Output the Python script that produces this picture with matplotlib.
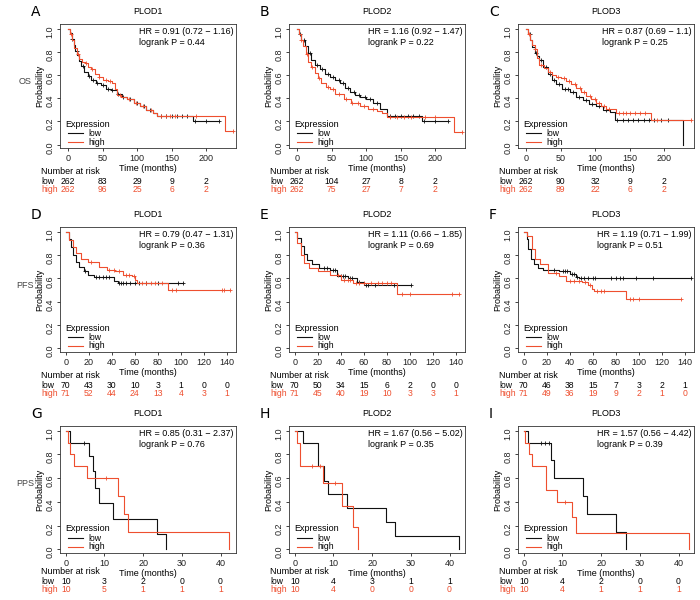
import numpy as np
import matplotlib
matplotlib.use("Agg")
import matplotlib.pyplot as plt
from matplotlib import transforms

plt.rcParams['font.family'] = ['Liberation Sans', 'DejaVu Sans']

RED = '#ee4f2f'
BLACK = '#111111'

genes = ['PLOD1', 'PLOD2', 'PLOD3']
endpoints = ['OS', 'PFS', 'PPS']
letters = ['A', 'B', 'C', 'D', 'E', 'F', 'G', 'H', 'I']

# ---- OS curves (time in months, survival after step) ----
os1_low_t = [0, 2, 5, 8, 10, 13, 16, 19, 23, 28, 33, 40, 47, 55, 62, 70, 78, 85, 95, 104, 113, 123, 128, 180]
os1_low_s = [1.0, 0.96, 0.91, 0.86, 0.81, 0.77, 0.72, 0.68, 0.63, 0.59, 0.56, 0.53, 0.51, 0.48, 0.47, 0.44, 0.41, 0.39, 0.36, 0.33, 0.30, 0.27, 0.245, 0.20]
os1_low_end = 218
os1_low_c = [5, 12, 22, 30, 36, 42, 50, 57, 63, 72, 80, 90, 100, 110, 118, 135, 142, 150, 158, 165, 172, 183, 200, 218]
os1_high_t = [0, 3, 6, 9, 12, 16, 20, 24, 29, 33, 38, 44, 50, 58, 64, 67, 70, 77, 85, 95, 104, 113, 123, 128, 227]
os1_high_s = [1.0, 0.95, 0.90, 0.83, 0.78, 0.74, 0.71, 0.70, 0.67, 0.65, 0.61, 0.58, 0.56, 0.55, 0.53, 0.48, 0.43, 0.41, 0.39, 0.36, 0.33, 0.30, 0.27, 0.245, 0.12]
os1_high_end = 238
os1_high_c = [4, 14, 26, 34, 45, 55, 60, 75, 88, 98, 108, 120, 135, 142, 148, 155, 185, 238]

os2_low_t = [0, 3, 6, 11, 15, 20, 26, 33, 40, 47, 55, 62, 69, 76, 84, 91, 100, 110, 120, 130, 180]
os2_low_s = [1.0, 0.95, 0.90, 0.85, 0.79, 0.73, 0.69, 0.65, 0.61, 0.58, 0.56, 0.53, 0.49, 0.45, 0.43, 0.41, 0.39, 0.36, 0.31, 0.245, 0.20]
os2_low_end = 218
os2_low_c = [4, 10, 18, 28, 36, 45, 52, 60, 66, 74, 82, 90, 98, 106, 115, 135, 142, 150, 160, 168, 176, 183, 200, 218]
os2_high_t = [0, 3, 5, 8, 12, 16, 20, 25, 30, 35, 41, 47, 55, 67, 78, 91, 103, 115, 123, 130, 227]
os2_high_s = [1.0, 0.95, 0.90, 0.85, 0.78, 0.71, 0.67, 0.62, 0.57, 0.53, 0.50, 0.48, 0.44, 0.39, 0.36, 0.33, 0.31, 0.29, 0.27, 0.235, 0.11]
os2_high_end = 238
os2_high_c = [6, 14, 22, 32, 44, 52, 60, 70, 80, 88, 96, 110, 135, 145, 155, 165, 185, 200, 238]

os3_low_t = [0, 3, 6, 9, 12, 15, 19, 24, 31, 37, 43, 52, 63, 72, 82, 91, 101, 111, 121, 128, 227]
os3_low_s = [1.0, 0.95, 0.90, 0.84, 0.79, 0.76, 0.73, 0.67, 0.61, 0.56, 0.52, 0.48, 0.45, 0.41, 0.38, 0.35, 0.33, 0.30, 0.28, 0.215, 0.0]
os3_low_end = 227
os3_low_c = [5, 14, 22, 28, 35, 40, 48, 56, 60, 68, 76, 86, 95, 105, 115, 132, 140, 148, 155, 162, 170, 178, 185, 195, 205]
os3_high_t = [0, 3, 6, 9, 12, 16, 19, 25, 31, 37, 43, 50, 58, 65, 72, 80, 87, 94, 101, 108, 116, 130, 180]
os3_high_s = [1.0, 0.95, 0.90, 0.86, 0.82, 0.75, 0.69, 0.66, 0.63, 0.60, 0.58, 0.57, 0.55, 0.52, 0.49, 0.45, 0.42, 0.39, 0.36, 0.33, 0.31, 0.27, 0.215]
os3_high_end = 238
os3_high_c = [4, 12, 22, 34, 46, 54, 62, 70, 78, 84, 92, 100, 106, 112, 120, 135, 140, 145, 150, 158, 165, 172, 190, 238]

# ---- PFS curves ----
pfs1_low_t = [0, 3, 4.3, 6, 9, 11.5, 16, 19, 24.5, 42, 45]
pfs1_low_s = [1.0, 0.94, 0.87, 0.80, 0.74, 0.70, 0.66, 0.63, 0.61, 0.58, 0.56]
pfs1_low_end = 102
pfs1_low_c = [17, 26, 29, 32, 35, 38, 46, 48, 50, 52, 56, 60, 64, 70, 80, 98, 102]
pfs1_high_t = [0, 3, 6, 9, 13, 19, 29, 36, 43, 50, 58, 60, 62, 89]
pfs1_high_s = [1.0, 0.93, 0.87, 0.82, 0.77, 0.74, 0.70, 0.67, 0.66, 0.63, 0.62, 0.59, 0.56, 0.50]
pfs1_high_end = 143
pfs1_high_c = [22, 38, 42, 46, 52, 55, 59, 66, 70, 74, 78, 84, 92, 96, 136, 138, 143]

pfs2_low_t = [0, 2.3, 5, 8, 11, 15, 21, 31, 37, 46, 54, 60]
pfs2_low_s = [1.0, 0.95, 0.88, 0.81, 0.76, 0.72, 0.69, 0.67, 0.62, 0.60, 0.57, 0.54]
pfs2_low_end = 101
pfs2_low_c = [25, 28, 33, 35, 40, 42, 44, 48, 50, 56, 62, 64, 70, 86, 89, 101]
pfs2_high_t = [0, 2.3, 5, 8, 12, 20, 31, 40, 51, 89]
pfs2_high_s = [1.0, 0.90, 0.80, 0.73, 0.69, 0.66, 0.63, 0.59, 0.56, 0.47]
pfs2_high_end = 143
pfs2_high_c = [38, 43, 46, 48, 53, 56, 60, 66, 72, 76, 80, 84, 93, 100, 137, 143]

pfs3_low_t = [0, 2.8, 4, 6, 8.5, 12.7, 17, 31, 40, 45, 48]
pfs3_low_s = [1.0, 0.94, 0.85, 0.77, 0.72, 0.69, 0.67, 0.66, 0.64, 0.61, 0.60]
pfs3_low_end = 145
pfs3_low_c = [26, 34, 36, 38, 42, 44, 46, 50, 52, 56, 60, 62, 76, 80, 84, 86, 98, 112, 145]
pfs3_high_t = [0, 2.8, 7, 10, 14, 21, 31, 37, 51, 56, 59, 61, 89]
pfs3_high_s = [1.0, 0.96, 0.85, 0.77, 0.72, 0.65, 0.62, 0.58, 0.57, 0.54, 0.51, 0.49, 0.42]
pfs3_high_end = 137
pfs3_high_c = [28, 40, 44, 48, 53, 58, 64, 67, 70, 92, 95, 100, 137]

# ---- PPS curves ----
pps1_low_t = [0, 1.2, 5.9, 7.0, 7.5, 8.5, 12.2, 23.7, 26.0]
pps1_low_s = [1.0, 0.9, 0.79, 0.66, 0.52, 0.39, 0.26, 0.13, 0.0]
pps1_low_end = 26.0
pps1_low_c = [4.8]
pps1_high_t = [0, 0.5, 1.2, 2.2, 5.6, 13.5, 15.0, 16.2, 42.3]
pps1_high_s = [1.0, 0.9, 0.8, 0.7, 0.6, 0.45, 0.30, 0.15, 0.0]
pps1_high_end = 42.3
pps1_high_c = [10.5]

pps2_low_t = [0, 2.2, 5.9, 7.6, 8.5, 13.4, 23.7, 26.0, 42.5]
pps2_low_s = [1.0, 0.9, 0.70, 0.58, 0.47, 0.35, 0.23, 0.115, 0.0]
pps2_low_end = 42.5
pps2_low_c = []
pps2_high_t = [0, 0.5, 1.4, 7.2, 12.3, 15.0, 16.3]
pps2_high_s = [1.0, 0.9, 0.70, 0.56, 0.37, 0.185, 0.0]
pps2_high_end = 16.3
pps2_high_c = [4.5, 6.5, 10.5]

pps3_low_t = [0, 1.2, 7.0, 7.8, 15.2, 16.4, 23.8, 26.3]
pps3_low_s = [1.0, 0.9, 0.75, 0.6, 0.45, 0.30, 0.15, 0.0]
pps3_low_end = 26.3
pps3_low_c = [4.5, 5.5, 6.5]
pps3_high_t = [0, 0.3, 1.4, 2.2, 5.8, 8.7, 12.4, 13.6, 42.8]
pps3_high_s = [1.0, 0.9, 0.8, 0.7, 0.5, 0.4, 0.27, 0.135, 0.0]
pps3_high_end = 42.8
pps3_high_c = [10.7]

# ---- stats text ----
hr_text = ['HR = 0.91 (0.72 \u2212 1.16)', 'HR = 1.16 (0.92 \u2212 1.47)', 'HR = 0.87 (0.69 \u2212 1.1)',
           'HR = 0.79 (0.47 \u2212 1.31)', 'HR = 1.11 (0.66 \u2212 1.85)', 'HR = 1.19 (0.71 \u2212 1.99)',
           'HR = 0.85 (0.31 \u2212 2.37)', 'HR = 1.67 (0.56 \u2212 5.02)', 'HR = 1.57 (0.56 \u2212 4.42)']
p_text = ['logrank P = 0.44', 'logrank P = 0.22', 'logrank P = 0.25',
          'logrank P = 0.36', 'logrank P = 0.69', 'logrank P = 0.51',
          'logrank P = 0.76', 'logrank P = 0.35', 'logrank P = 0.39']

# ---- number at risk ----
os_risk_times = [0, 50, 100, 150, 200]
pfs_risk_times = [0, 20, 40, 60, 80, 100, 120, 140]
pps_risk_times = [0, 10, 20, 30, 40]
risk_low = [[262, 83, 29, 9, 2], [262, 104, 27, 8, 2], [262, 90, 32, 9, 2],
            [70, 43, 30, 10, 3, 1, 0, 0], [70, 50, 34, 15, 6, 2, 0, 0], [70, 46, 38, 15, 7, 3, 2, 1],
            [10, 3, 2, 0, 0], [10, 4, 3, 1, 1], [10, 4, 2, 0, 0]]
risk_high = [[262, 96, 25, 6, 2], [262, 75, 27, 7, 2], [262, 89, 22, 6, 2],
             [71, 52, 44, 24, 13, 4, 3, 1], [71, 45, 40, 19, 10, 3, 3, 1], [71, 49, 36, 19, 9, 2, 1, 0],
             [10, 5, 1, 1, 1], [10, 4, 0, 0, 0], [10, 4, 1, 1, 1]]

curves = [
    [(os1_low_t, os1_low_s, os1_low_end, os1_low_c), (os1_high_t, os1_high_s, os1_high_end, os1_high_c)],
    [(os2_low_t, os2_low_s, os2_low_end, os2_low_c), (os2_high_t, os2_high_s, os2_high_end, os2_high_c)],
    [(os3_low_t, os3_low_s, os3_low_end, os3_low_c), (os3_high_t, os3_high_s, os3_high_end, os3_high_c)],
    [(pfs1_low_t, pfs1_low_s, pfs1_low_end, pfs1_low_c), (pfs1_high_t, pfs1_high_s, pfs1_high_end, pfs1_high_c)],
    [(pfs2_low_t, pfs2_low_s, pfs2_low_end, pfs2_low_c), (pfs2_high_t, pfs2_high_s, pfs2_high_end, pfs2_high_c)],
    [(pfs3_low_t, pfs3_low_s, pfs3_low_end, pfs3_low_c), (pfs3_high_t, pfs3_high_s, pfs3_high_end, pfs3_high_c)],
    [(pps1_low_t, pps1_low_s, pps1_low_end, pps1_low_c), (pps1_high_t, pps1_high_s, pps1_high_end, pps1_high_c)],
    [(pps2_low_t, pps2_low_s, pps2_low_end, pps2_low_c), (pps2_high_t, pps2_high_s, pps2_high_end, pps2_high_c)],
    [(pps3_low_t, pps3_low_s, pps3_low_end, pps3_low_c), (pps3_high_t, pps3_high_s, pps3_high_end, pps3_high_c)],
]

row_xlim = [(-12, 243), (-5, 148), (-1.5, 44)]
row_xticks = [os_risk_times, pfs_risk_times, pps_risk_times]

# layout in pixels
W, H = 700, 600
col_left = [60, 289, 518]
ax_w = 176
row_top = [24, 227, 426]
ax_h = [124, 125, 127]
risk_y = [(172, 182, 190), (376, 385, 393), (572, 582, 590)]

FS = 6.5
FS_SMALL = 6.2


def km(ax, t, s, end, cens, color):
    tt = list(t) + [end]
    ss = list(s) + [s[-1]]
    ax.step(tt, ss, where='post', color=color, lw=0.8)
    if cens:
        idx = np.searchsorted(t, cens, side='right') - 1
        cy = np.array(s)[idx]
        ax.plot(cens, cy, ls='none', marker='+', ms=3, mew=0.6, color=color)


fig = plt.figure(figsize=(7, 6), dpi=100)

for k in range(9):
    r, c = divmod(k, 3)
    left = col_left[c] / W
    bottom = 1 - (row_top[r] + ax_h[r]) / H
    ax = fig.add_axes([left, bottom, ax_w / W, ax_h[r] / H])

    (lo, hi) = curves[k]
    km(ax, *lo, BLACK)
    km(ax, *hi, RED)

    ax.set_xlim(*row_xlim[r])
    ax.set_ylim(-0.03, 1.04)
    ax.set_xticks(row_xticks[r])
    ax.set_yticks([0, 0.2, 0.4, 0.6, 0.8, 1.0])
    ax.set_yticklabels(['0.0', '0.2', '0.4', '0.6', '0.8', '1.0'])
    ax.tick_params(labelsize=FS, length=2.5, width=0.6, pad=1.5, colors='#222222')
    ax.tick_params(axis='y', labelrotation=90)
    for sp in ax.spines.values():
        sp.set_linewidth(0.6)
        sp.set_color('#333333')
    ax.set_xlabel('Time (months)', fontsize=FS, labelpad=1)
    ax.set_ylabel('Probability', fontsize=FS, labelpad=1)
    ax.set_title(genes[c], fontsize=FS, pad=7)

    ax.text(0.985, 0.975, hr_text[k] + '\n' + p_text[k], transform=ax.transAxes,
            ha='right', va='top', multialignment='left', fontsize=FS, linespacing=1.25)

    # legend
    ax.text(0.03, 0.19, 'Expression', transform=ax.transAxes, fontsize=FS, va='center')
    ax.plot([0.045, 0.13], [0.117, 0.117], transform=ax.transAxes, color=BLACK, lw=0.8)
    ax.plot([0.045, 0.13], [0.048, 0.048], transform=ax.transAxes, color=RED, lw=0.8)
    ax.text(0.16, 0.117, 'low', transform=ax.transAxes, fontsize=FS_SMALL, va='center')
    ax.text(0.16, 0.048, 'high', transform=ax.transAxes, fontsize=FS_SMALL, va='center')

    # panel letter
    lx = col_left[c] - 29
    fig.text(lx / W, 1 - (row_top[r] - 12) / H, letters[k], fontsize=10,
             family='DejaVu Sans', ha='left', va='center')

    # number at risk
    tr = transforms.blended_transform_factory(ax.transData, fig.transFigure)
    ny, ly, hy = risk_y[r]
    lab_x = (col_left[c] - 19) / W
    fig.text(lab_x, 1 - ny / H, 'Number at risk', fontsize=FS, va='center')
    fig.text(lab_x, 1 - ly / H, 'low', fontsize=FS_SMALL, va='center')
    fig.text(lab_x, 1 - hy / H, 'high', fontsize=FS_SMALL, va='center', color=RED)
    for xt, n in zip(row_xticks[r], risk_low[k]):
        ax.text(xt, 1 - ly / H, str(n), transform=tr, fontsize=FS_SMALL, ha='center', va='center')
    for xt, n in zip(row_xticks[r], risk_high[k]):
        ax.text(xt, 1 - hy / H, str(n), transform=tr, fontsize=FS_SMALL, ha='center', va='center', color=RED)

# row labels
for r in range(3):
    fig.text(25 / W, 1 - (row_top[r] + 58) / H, endpoints[r], fontsize=FS, color='#444444',
             ha='center', va='center')

fig.savefig('out.png', dpi=100)
